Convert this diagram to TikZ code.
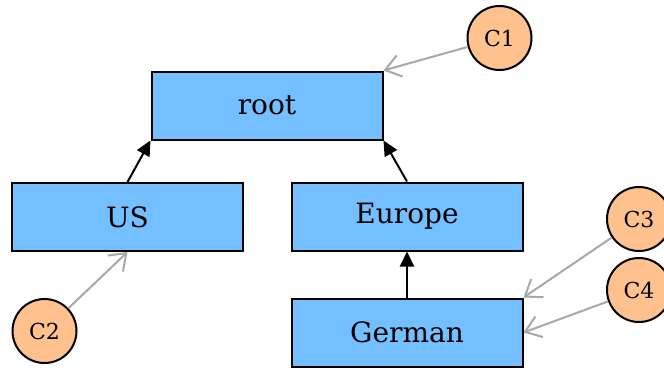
\documentclass[tikz,border=0pt]{standalone}
\usepackage{fontspec}
\setmainfont{DejaVu Serif}
\usetikzlibrary{arrows.meta}
\definecolor{boxblue}{RGB}{116,191,255}
\definecolor{peach}{RGB}{255,193,142}
\definecolor{linkgray}{RGB}{168,168,168}
\begin{document}
\begin{tikzpicture}[x=1pt,y=-1pt,
  region/.style={draw=black,line width=2pt,fill=boxblue,rectangle,
    minimum width=231pt,minimum height=68pt,inner sep=0pt,
    font=\fontsize{28}{32}\selectfont},
  client/.style={draw=black,line width=2pt,fill=peach,circle,
    minimum size=64pt,inner sep=0pt,font=\fontsize{22}{26}\selectfont},
  parentlink/.style={draw=black,line width=2pt,
    -{Triangle[length=15pt,width=14pt]}},
  clientlink/.style={draw=linkgray,line width=2pt,
    -{Straight Barb[length=15pt,width=22pt,line width=2pt]}}]
  \useasboundingbox (0,0) rectangle (664,372);

  % region hierarchy
  \node[region] (root) at (267,105.5) {root};
  \node[region] (us) at (127.5,217) {US};
  \node[region] (europe) at (407,216.5) {Europe};
  \node[region] (german) at (407,332.5) {German};

  % clients
  \node[client] (c1) at (499.5,38) {C1};
  \node[client] (c2) at (44.5,331) {C2};
  \node[client] (c3) at (639,219) {C3};
  \node[client] (c4) at (639,290) {C4};

  % parent links
  \draw[parentlink] (us.north) -- (root.south west);
  \draw[parentlink] (europe.north) -- (root.south east);
  \draw[parentlink] (german.north) -- (europe.south);

  % client attachments
  \draw[clientlink] (c1) -- (root.north east);
  \draw[clientlink] (c2) -- (us.south);
  \draw[clientlink] (c3) -- (german.north east);
  \draw[clientlink] (c4) -- (german.east);
\end{tikzpicture}
\end{document}
